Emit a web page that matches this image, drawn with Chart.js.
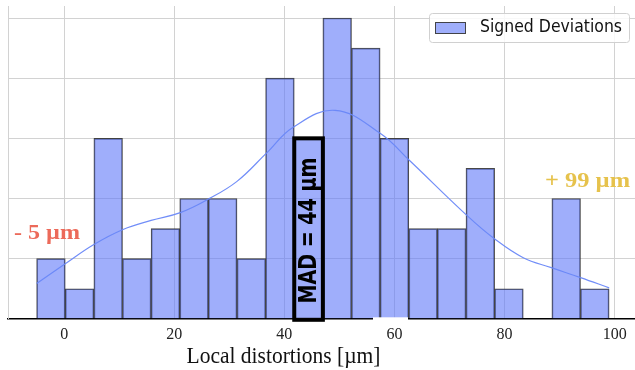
<!DOCTYPE html>
<html>
<head>
<meta charset="utf-8">
<script src="https://cdn.jsdelivr.net/npm/chart.js@4/dist/chart.umd.min.js"></script>
<style>
  html, body { margin: 0; padding: 0; background: #fff; }
  #wrap { width: 635px; height: 370px; }
</style>
</head>
<body>
<div id="wrap"><canvas id="histChart"></canvas></div>
<script>
// histogram bins (centres, width 5.2 from -5 to 99) and counts
const binCentres = [-2.4, 2.8, 8.0, 13.2, 18.4, 23.6, 28.8, 34.0, 39.2, 44.4,
                    49.6, 54.8, 60.0, 65.2, 70.4, 75.6, 80.8, 86.0, 91.2, 96.4];
const binCounts  = [2, 1, 6, 2, 3, 4, 4, 2, 8, 6,
                    10, 9, 6, 3, 3, 5, 1, 0, 4, 1];
const binWidth = 5.2;

// kde curve
const kdeX = [-5.0, 0.2, 5.4, 10.7, 15.8, 21.1, 26.1, 31.4, 36.7, 41.6,
              49.2, 57.4, 62.7, 73.2, 78.1, 83.4, 88.5, 93.8, 99.0];
const kdeY = [1.17, 1.83, 2.47, 2.97, 3.27, 3.53, 3.97, 4.57, 5.5, 6.37,
              6.93, 6.17, 5.27, 3.43, 2.67, 2.03, 1.7, 1.37, 1.03];

const xTicks = [0, 20, 40, 60, 80, 100];
const yTicks = [0, 2, 4, 6, 8, 10];

const seriesLabel = 'Signed Deviations';
const xTitle = 'Local distortions [µm]';
const madLabel = 'MAD = 44 µm';
const madBin = 9;
const minLabel = '- 5 µm';
const maxLabel = '+ 99 µm';

const barFill = 'rgba(95, 120, 248, 0.6)';

// draw text squeezed/stretched along its run to a given width
function fitText(ctx, text, x, y, width) {
  const w = ctx.measureText(text).width;
  ctx.save();
  ctx.translate(x, y);
  ctx.scale(width / w, 1);
  ctx.fillText(text, 0, 0);
  ctx.restore();
}

// white patch behind the "60" label, as in the source image
const patch = {
  id: 'patch',
  afterDraw(chart) {
    const ctx = chart.ctx;
    const b = chart.chartArea.bottom;
    ctx.save();
    ctx.fillStyle = '#fff';
    ctx.fillRect(373, b - 1.5, 35, 5);
    ctx.restore();
  }
};

// legend, axis title, MAD box and min/max labels
const extras = {
  id: 'extras',
  afterDatasetsDraw(chart) {
    const ctx = chart.ctx;
    const xs = chart.scales.x, ys = chart.scales.y;
    ctx.save();

    // MAD box over its bin
    const c = binCentres[madBin];
    const l = xs.getPixelForValue(c - binWidth / 2);
    const r = xs.getPixelForValue(c + binWidth / 2);
    const t = ys.getPixelForValue(binCounts[madBin]);
    const b = ys.getPixelForValue(0);
    ctx.lineWidth = 4;
    ctx.strokeStyle = '#000';
    ctx.strokeRect(l, t, r - l, b - t + 1);
    ctx.save();
    ctx.translate((l + r) / 2 + 1, (t + b) / 2 + 2);
    ctx.rotate(-Math.PI / 2);
    ctx.fillStyle = '#000';
    ctx.font = 'bold 25px "DejaVu Sans"';
    ctx.textAlign = 'center';
    ctx.textBaseline = 'middle';
    fitText(ctx, madLabel, 0, 0, 146);
    ctx.restore();

    // min / max labels
    ctx.font = 'bold 20px "Liberation Serif"';
    ctx.textAlign = 'left';
    ctx.textBaseline = 'alphabetic';
    ctx.fillStyle = '#ec6a5a';
    fitText(ctx, minLabel, 14, 239, 66);
    ctx.fillStyle = '#e6c24c';
    fitText(ctx, maxLabel, 545, 187, 85);

    // x axis title
    ctx.fillStyle = '#111';
    ctx.font = '23px "Liberation Serif"';
    ctx.textAlign = 'center';
    fitText(ctx, xTitle, 283.5, 363, 194);

    // legend
    const lx = 429, ly = 13, lw = 200, lh = 29;
    ctx.beginPath();
    ctx.roundRect(lx + 0.5, ly + 0.5, lw, lh, 3);
    ctx.fillStyle = 'rgba(255,255,255,0.85)';
    ctx.fill();
    ctx.strokeStyle = '#d0d0d0';
    ctx.lineWidth = 1;
    ctx.stroke();
    ctx.fillStyle = barFill;
    ctx.fillRect(435.5, 22.5, 30, 11);
    ctx.strokeStyle = 'rgba(40,40,40,0.85)';
    ctx.strokeRect(435.5, 22.5, 30, 11);
    ctx.fillStyle = '#111';
    ctx.font = '17px "DejaVu Sans"';
    ctx.textAlign = 'left';
    ctx.textBaseline = 'middle';
    fitText(ctx, seriesLabel, 480, 28, 142);
    ctx.restore();
  }
};

new Chart(document.getElementById('histChart'), {
  type: 'bar',
  data: {
    datasets: [{
      type: 'line',
      label: 'kde',
      data: kdeX.map((x, i) => ({ x: x, y: kdeY[i] })),
      borderColor: 'rgba(105, 135, 248, 0.95)',
      borderWidth: 1.2,
      pointRadius: 0,
      tension: 0.4,
      fill: false,
      order: 0
    }, {
      label: seriesLabel,
      data: binCentres.map((x, i) => ({ x: x, y: binCounts[i] })),
      backgroundColor: barFill,
      borderColor: 'rgba(40, 40, 40, 0.85)',
      borderWidth: 1,
      barPercentage: 1,
      categoryPercentage: 1,
      order: 1
    }]
  },
  options: {
    responsive: true,
    maintainAspectRatio: false,
    animation: false,
    layout: { padding: { left: 8, top: 6, right: 0, bottom: 20 } },
    plugins: { legend: { display: false }, tooltip: { enabled: false } },
    scales: {
      x: {
        type: 'linear',
        offset: false,
        min: -10.2,
        max: 103.7,
        afterBuildTicks: axis => { axis.ticks = xTicks.map(v => ({ value: v })); },
        grid: { color: '#d2d2d2', lineWidth: 1, drawTicks: false, offset: false },
        border: { color: '#000', width: 1.5 },
        ticks: {
          padding: 6,
          color: '#222',
          font: { family: 'Liberation Serif', size: 16 },
          maxRotation: 0
        }
      },
      y: {
        min: 0,
        max: 10.4,
        afterBuildTicks: axis => { axis.ticks = yTicks.map(v => ({ value: v })); },
        grid: { color: '#d2d2d2', lineWidth: 1, drawTicks: false },
        border: { color: '#d2d2d2', width: 1 },
        ticks: { display: false }
      }
    }
  },
  plugins: [extras, patch]
});
</script>
</body>
</html>
